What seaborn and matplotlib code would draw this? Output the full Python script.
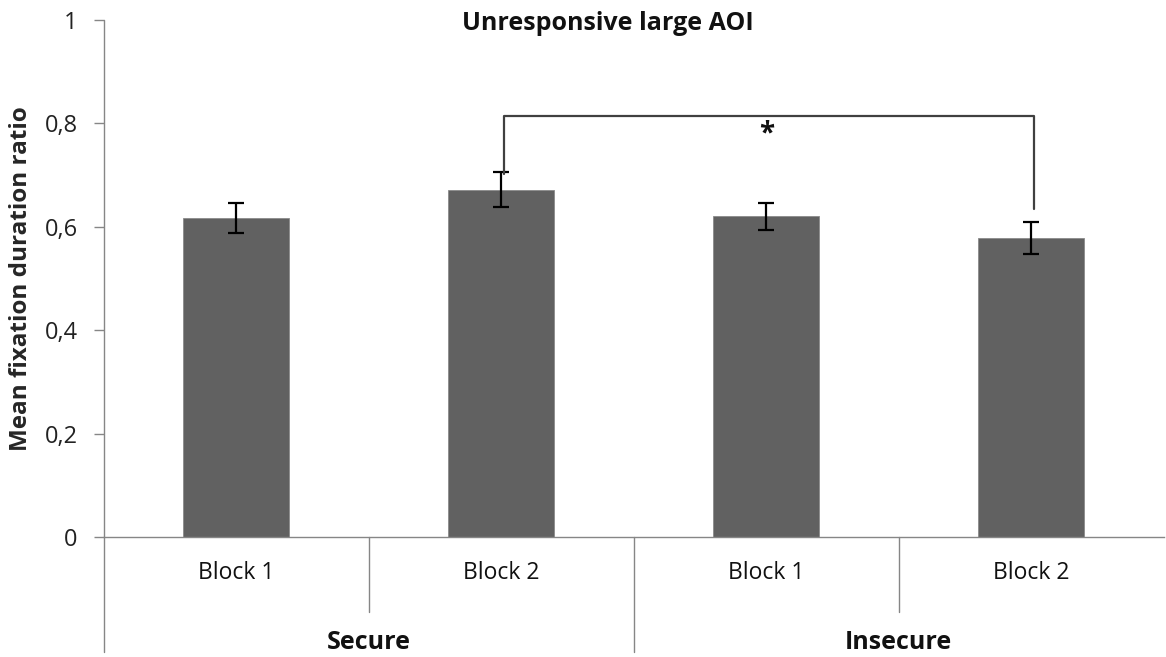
import matplotlib
matplotlib.use("Agg")
import matplotlib.pyplot as plt
import seaborn as sns
import pandas as pd
import numpy as np

# Data
groups = ["Secure", "Secure", "Insecure", "Insecure"]
blocks = ["Block 1", "Block 2", "Block 1", "Block 2"]
means = [0.617, 0.672, 0.620, 0.578]
errors = [0.029, 0.034, 0.026, 0.031]
yticks = [0, 0.2, 0.4, 0.6, 0.8, 1.0]
ytick_labels = ["0", "0,2", "0,4", "0,6", "0,8", "1"]
title = "Unresponsive large AOI"
ylabel = "Mean fixation duration ratio"

sns.set_style("white")
plt.rcParams["font.family"] = ["Open Sans", "DejaVu Sans"]

df = pd.DataFrame({"pos": [str(i) for i in range(len(means))], "mean": means})

fig = plt.figure(figsize=(11.66, 6.57), dpi=100)
ax = fig.add_axes([104 / 1166, (657 - 537) / 657, 1 - 104 / 1166 - 0.002, (537 - 20) / 657])

sns.barplot(data=df, x="pos", y="mean", color="#616161", width=0.4, ax=ax,
            errorbar=None, saturation=1, edgecolor="#8a8a8a", linewidth=0.6)
ax.errorbar(range(len(means)), means, yerr=errors, fmt="none", ecolor="black",
            elinewidth=1.6, capsize=6, capthick=1.6)

ax.set_xlim(-0.5, 3.5)
ax.set_ylim(0, 1)
ax.set_yticks(yticks)
ax.set_yticklabels(ytick_labels, fontsize=17, color="#222222")
ax.set_xticks([])
ax.set_xlabel("")
ax.set_ylabel(ylabel, fontsize=17.5, fontweight="bold", labelpad=8)
ax.tick_params(axis="y", direction="out", length=7, width=1, color="#868686",
               left=True, pad=12)

for s in ["top", "right"]:
    ax.spines[s].set_visible(False)
ax.spines["left"].set_visible(False)
ax.spines["bottom"].set_color("#868686")
ax.spines["bottom"].set_linewidth(1)

axis_col = "#868686"
# left axis line extended below
ax.plot([-0.5, -0.5], [-0.222, 1.0], color=axis_col, lw=1, clip_on=False)
# block dividers
for x in [0.5, 2.5]:
    ax.plot([x, x], [0, -0.145], color=axis_col, lw=1, clip_on=False)
ax.plot([1.5, 1.5], [0, -0.222], color=axis_col, lw=1, clip_on=False)

for i, b in enumerate(blocks):
    ax.text(i, -0.07, b, ha="center", va="center", fontsize=16.5, color="#111111")
for gx, g in [(0.5, "Secure"), (2.5, "Insecure")]:
    ax.text(gx, -0.205, g, ha="center", va="center", fontsize=18,
            fontweight="bold", color="#111111")

# significance bracket
ax.plot([1.01, 1.01, 3.01, 3.01], [0.702, 0.814, 0.814, 0.634],
        color="#404040", lw=1.6, clip_on=False)
ax.text(2.0, 0.78, "*", ha="center", va="center", fontsize=20,
        fontweight="bold", color="#111111")

fig.text(608 / 1166, 1 - 24 / 657, title, ha="center", va="center",
         fontsize=18, fontweight="bold", color="#111111")

fig.savefig("out.png", dpi=100)
